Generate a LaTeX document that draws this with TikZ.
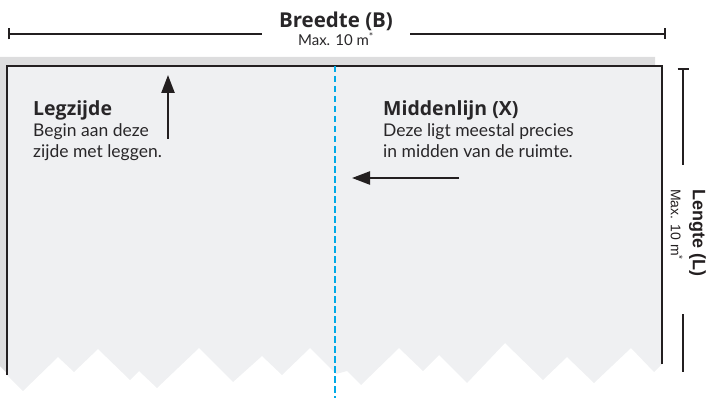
\documentclass[tikz,border=0pt]{standalone}
\usepackage{fontspec}
\setmainfont{Lato}
\newfontfamily\kopfont{Open Sans}
\newfontfamily\maatfont{Liberation Sans}
\usetikzlibrary{arrows.meta,positioning}
\definecolor{vloerwit}{RGB}{239,240,242}
\definecolor{vloergrijs}{RGB}{221,221,222}
\definecolor{lijnzwart}{RGB}{35,31,32}
\definecolor{middenblauw}{RGB}{0,169,230}
\definecolor{tekstgrijs}{RGB}{40,38,40}

\tikzset{
  maatlijn/.style={draw=lijnzwart, line width=2pt},
  rand/.style={draw=lijnzwart, line width=2.2pt},
  pijl/.style={draw=lijnzwart, line width=2.4pt, -{Triangle[length=18pt,width=13pt]}},
  tekst/.style={text=tekstgrijs, inner sep=0pt, align=left, anchor=north west,
    font=\fontsize{17.5}{21}\selectfont},
}
\newcommand{\kop}[1]{{\kopfont\fontsize{19.5}{21}\selectfont\bfseries #1}}

\begin{document}
\begin{tikzpicture}[x=1pt,y=-1pt]
    \useasboundingbox (0,0) rectangle (708,398);

    % achterste baan (grijs) en voorste baan
    \fill[vloergrijs] (0,57) -- (655,57) -- (655,355) -- (647,363) -- (624,339) -- (587,374)
        -- (560,348) -- (536,371) -- (498,334) -- (460,374) -- (432,346) -- (416,362)
        -- (392,339) -- (354,376) -- (340,362) -- (329,365) -- (303,339) -- (275,366)
        -- (255,347) -- (226,373) -- (192,339) -- (150,379) -- (132,362) -- (123,371)
        -- (91,340) -- (67,363) -- (51,348) -- (16,382) -- (0,366) -- cycle;
    \fill[vloerwit] (7,66) -- (662,66) -- (662,364) -- (654,372) -- (631,348) -- (594,383)
        -- (567,357) -- (543,380) -- (505,343) -- (467,383) -- (439,355) -- (423,371)
        -- (399,348) -- (361,385) -- (347,371) -- (336,374) -- (310,348) -- (282,375)
        -- (262,356) -- (233,382) -- (199,348) -- (157,388) -- (139,371) -- (130,380)
        -- (98,349) -- (74,372) -- (58,357) -- (23,391) -- (7,375) -- cycle;
    \draw[rand] (7,375) -- (7,66) -- (662,66) -- (662,364);

    % middenlijn
    \coordinate (mBoven) at (335,66);
    \coordinate (mOnder) at (335,398);
    \draw[middenblauw, line width=1.6pt, dash pattern=on 6.5pt off 3.5pt] (mBoven) -- (mOnder);

    % breedte
    \node[text=tekstgrijs, align=center, anchor=north, inner xsep=17pt, inner ysep=0pt,
        font=\fontsize{15}{18}\selectfont] (breedte) at (336,11.5)
        {{\kopfont\fontsize{20.5}{18}\selectfont\bfseries Breedte (B)}\\
         Max. 10 m\textsuperscript{*}};
    \coordinate (bLinks) at (8,34);
    \coordinate (bRechts) at (666,34);
    \draw[maatlijn, {Bar[width=11pt]}-] (bLinks) -- (bLinks -| breedte.west);
    \draw[maatlijn, -{Bar[width=11pt]}] (bRechts -| breedte.east) -- (bRechts);

    % lengte
    \node[text=lijnzwart, align=left, rotate=-90, anchor=north west, inner xsep=24pt, inner ysep=0pt,
        font=\maatfont\fontsize{14}{22}\selectfont] (lengte) at (706,165)
        {{\fontsize{18}{22}\selectfont\bfseries Lengte (L)}\\
         Max. 10 m\textsuperscript{*}};
    \coordinate (lBoven) at (683,68);
    \coordinate (lMidden) at (683,314);
    \coordinate (lOnder) at (683,372);
    \draw[maatlijn, {Bar[width=11pt]}-] (lBoven) -- (lBoven |- lengte.west);
    \draw[maatlijn] (lMidden) -- (lOnder);

    % teksten
    \node[tekst] (legzijde) at (33,100) {\kop{Legzijde}\\Begin aan deze\\zijde met leggen.};
    \node[tekst] (middenlijn) at (383,100) {\kop{Middenlijn (X)}\\Deze ligt meestal precies\\in midden van de ruimte.};

    % pijlen
    \coordinate (legVoet) at (168,139);
    \coordinate (legTop) at (168,75);
    \coordinate (midStaart) at (459,178);
    \coordinate (midPunt) at (352,178);
    \draw[pijl] (legVoet) -- (legTop);
    \draw[pijl] (midStaart) -- (midPunt);
\end{tikzpicture}
\end{document}
